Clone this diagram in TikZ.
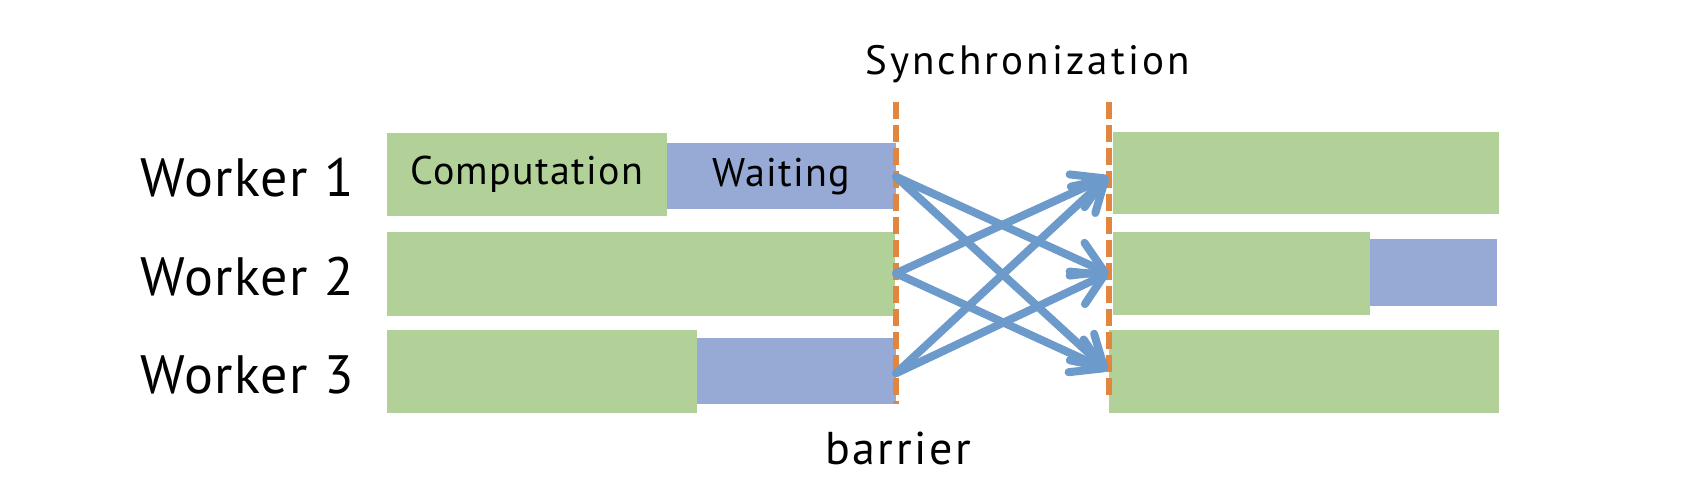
\documentclass[tikz,border=0pt]{standalone}
\usepackage{fontspec}
\setmainfont{PT Sans}
\usetikzlibrary{arrows.meta}
\definecolor{compgreen}{HTML}{B1D198}
\definecolor{waitblue}{HTML}{97AAD6}
\definecolor{syncorange}{HTML}{E2853F}
\definecolor{msgblue}{HTML}{6C9BCB}
\newcommand\txtsize[2]{\fontsize{#1}{#1}\selectfont\addfontfeatures{LetterSpace=#2}}
\begin{document}
\begin{tikzpicture}[x=0.5pt,y=-0.5pt,
  box/.style 2 args={anchor=north west,inner sep=0pt,outer sep=0pt,
    minimum width=#1*0.5pt,minimum height=#2*0.5pt,font=\txtsize{20}{3.3}},
  comp/.style={fill=compgreen},
  wait/.style={fill=waitblue},
  worker/.style={anchor=base west,inner sep=0pt,font=\txtsize{27}{2.6}},
  sync/.style={draw=syncorange,line width=3pt,dash pattern=on 8.5pt off 3pt},
  msg/.style={draw=msgblue,line width=4pt,line cap=round,
    -{Straight Barb[length=15pt,width=18pt,round]}},
  lbl/.style={anchor=base,inner sep=0pt}]
 \useasboundingbox (0,0) rectangle (1698,498);
 \node[worker] (k1) at (140,196) {Worker 1};
 \node[worker] (k2) at (140,295) {Worker 2};
 \node[worker] (k3) at (140,393) {Worker 3};
 \node[box={280}{83},comp] (c1) at (386.7,133) {Computation};
 \node[box={229.3}{66},wait] (w1) at (666.7,143.3) {Waiting};
 \node[box={508.3}{83.4},comp] (c2) at (386.7,232.3) {};
 \node[box={310}{83},comp] (c3) at (386.7,330) {};
 \node[box={199.3}{66},wait] (w3) at (696.7,338.3) {};
 \node[box={386.6}{82.6},comp] (r1) at (1112.7,131.7) {};
 \node[box={257}{82.4},comp] (r2) at (1113,232.3) {};
 \node[box={127.3}{66.4},wait] (q2) at (1370,239.3) {};
 \node[box={390}{82.7},comp] (r3) at (1109,330) {};
 \coordinate (top1) at (895.5,102);
 \coordinate (bot1) at (895.5,404);
 \coordinate (top2) at (1109,102);
 \coordinate (bot2) at (1109,400);
 \draw[sync] (top1) -- (bot1);
 \draw[sync] (top2) -- (bot2);
 \coordinate (s1) at (896,176.7);
 \coordinate (s2) at (896,273.3);
 \coordinate (s3) at (896,373.3);
 \coordinate (e1) at (1108,176.7);
 \coordinate (e2) at (1108,273.3);
 \coordinate (e3) at (1107,370);
 \foreach \i in {1,2,3}
  \foreach \j in {1,2,3}
   {\ifnum\i=\j\else\draw[msg] (s\i) -- (e\j);\fi}
 \node[lbl,font=\txtsize{20.5}{7.5}] (sy) at (1027.5,74) {Synchronization};
 \node[lbl,font=\txtsize{23}{5.7}] (ba) at (898,464) {barrier};
\end{tikzpicture}
\end{document}
